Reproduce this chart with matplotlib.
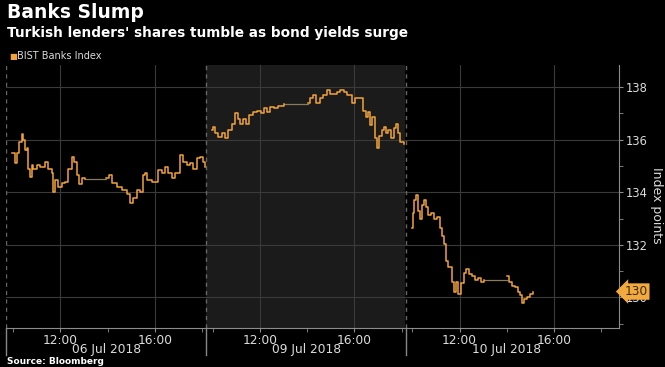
import matplotlib.pyplot as plt
import numpy as np

# BIST Banks Index, three sessions (times local, values in index points)
day_labels = ['06 Jul 2018', '09 Jul 2018', '10 Jul 2018']

jul06_times = ['09:57', '10:05', '10:10', '10:15', '10:23', '10:25', '10:30', '10:35', '10:38', '10:43',
               '10:48', '10:51', '11:01', '11:08', '11:21', '11:29', '11:39', '11:41', '11:46', '11:54',
               '12:04', '12:12', '12:20', '12:30', '12:35', '12:42', '12:47', '12:55', '13:03',
               '13:56', '14:04', '14:11', '14:24', '14:37', '14:49', '14:57', '15:05', '15:15', '15:22',
               '15:30', '15:35', '15:40', '15:53', '16:00', '16:08', '16:18', '16:26', '16:33', '16:44',
               '16:51', '17:04', '17:12', '17:22', '17:29', '17:37', '17:47', '17:55', '18:02', '18:07']
jul06_vals = [135.5, 135.1, 135.5, 135.9, 136.2, 136.0, 135.6, 135.7, 134.9, 134.6,
              135.05, 134.9, 135.05, 134.95, 135.15, 134.9, 134.75, 134.0, 134.45, 134.2,
              134.35, 134.4, 134.9, 135.35, 135.15, 134.65, 134.3, 134.55, 134.5,
              134.55, 134.65, 134.35, 134.2, 134.1, 133.95, 133.6, 133.8, 134.1, 134.0,
              134.65, 134.75, 134.45, 134.4, 134.4, 134.85, 134.75, 134.95, 134.75, 134.55,
              134.75, 135.4, 135.15, 135.05, 135.1, 134.9, 135.3, 135.35, 135.15, 134.95]

jul09_times = ['09:58', '10:01', '10:06', '10:13', '10:24', '10:31', '10:39', '10:49', '10:57', '11:04',
               '11:09', '11:17', '11:25', '11:32', '11:42', '11:53', '12:03', '12:10', '12:18', '12:26',
               '12:36', '12:46', '12:56', '13:01',
               '14:02', '14:07', '14:15', '14:22', '14:33', '14:40', '14:50', '14:58', '15:06', '15:16',
               '15:23', '15:34', '15:41', '15:49', '15:54', '16:01', '16:09', '16:19', '16:22', '16:29',
               '16:34', '16:40', '16:45', '16:52', '16:57', '17:02', '17:10', '17:15', '17:20', '17:25',
               '17:33', '17:40', '17:46', '17:51', '17:56', '18:06']
jul09_vals = [136.35, 136.5, 136.25, 136.1, 136.25, 136.05, 136.35, 136.6, 137.0, 136.8,
              136.6, 136.8, 136.6, 136.95, 137.05, 137.1, 137.0, 137.2, 137.05, 137.25,
              137.2, 137.3, 137.3, 137.35,
              137.4, 137.6, 137.7, 137.4, 137.6, 137.7, 137.9, 137.75, 137.75, 137.8,
              137.9, 137.8, 137.7, 137.7, 137.4, 137.6, 137.6, 137.6, 137.1, 136.85,
              137.05, 136.55, 136.85, 136.05, 135.7, 136.15, 136.35, 136.5, 136.25, 136.35,
              136.05, 136.45, 136.6, 136.25, 135.9, 135.85]

jul10_times = ['09:59', '10:02', '10:04', '10:09', '10:14', '10:20', '10:25', '10:30', '10:35', '10:40',
               '10:48', '10:55', '11:03', '11:10', '11:15', '11:21', '11:26', '11:31', '11:41', '11:46',
               '11:51', '11:56', '12:04', '12:11', '12:16', '12:24', '12:32', '12:39', '12:47', '12:55',
               '13:02',
               '14:01', '14:06', '14:13', '14:21', '14:29', '14:34', '14:39', '14:44', '14:51', '14:59',
               '15:07']
jul10_vals = [132.65, 133.2, 133.7, 133.9, 133.3, 133.0, 133.5, 133.7, 133.45, 133.15,
              133.2, 133.0, 133.05, 132.65, 132.35, 132.05, 131.4, 131.15, 130.6, 130.2,
              130.6, 130.15, 130.55, 130.95, 131.1, 130.9, 130.8, 130.65, 130.75, 130.6,
              130.65,
              130.8, 130.6, 130.45, 130.4, 130.2, 130.1, 129.8, 129.95, 130.0, 130.15,
              130.2]

days = [(jul06_times, jul06_vals), (jul09_times, jul09_vals), (jul10_times, jul10_vals)]

SESSION_START = 9.7   # hours, left edge of each day block
SESSION_LEN = 8.45    # width of one day block in hours
ORANGE = '#f2a33a'
GRID = '#3a3a3a'
TXT = '#dcdcdc'


def to_x(day, hhmm):
    h, m = hhmm.split(':')
    return day * SESSION_LEN + int(h) + int(m) / 60 - SESSION_START


fig = plt.figure(figsize=(6.65, 3.67), dpi=100, facecolor='black')
ax = fig.add_axes([6 / 665, 1 - 328 / 367, 613 / 665, 263 / 367])
ax.set_facecolor('black')
ax.set_xlim(0, 25.95)
ax.set_ylim(128.84, 138.84)

# middle session shaded
ax.axvspan(SESSION_LEN, 2 * SESSION_LEN, color='#1b1b1b', zorder=0, lw=0)

# grid
for v in range(130, 139, 2):
    ax.axhline(v, color=GRID, lw=0.8, zorder=1)
major, minor = [], []
for d in range(3):
    major += [to_x(d, '12:00'), to_x(d, '16:00')]
    minor += [to_x(d, '10:00'), to_x(d, '14:00'), to_x(d, '18:00')]
for xv in major:
    ax.axvline(xv, color=GRID, lw=0.8, zorder=1)

# day separators
for d in range(3):
    xs = d * SESSION_LEN + 0.02
    ax.axvline(xs, color='#666666', lw=1, ls=(0, (3, 3)), zorder=1)
    ax.plot([xs, xs], [0, -0.103], color='#888888', lw=1,
            transform=ax.get_xaxis_transform(), clip_on=False)
    ax.text(d * SESSION_LEN + SESSION_LEN / 2 + 0.05, -0.083, day_labels[d], transform=ax.get_xaxis_transform(),
            ha='center', va='center', color=TXT, fontsize=8.8)

# the index line, lunch break drawn grey
for d, (times, vals) in enumerate(days):
    xs = np.array([to_x(d, t) for t in times])
    vs = np.array(vals)
    gap = np.argmax(np.diff(xs)) + 1
    ax.plot(xs[:gap], vs[:gap], color=ORANGE, lw=1.1, drawstyle='steps-post', zorder=3)
    ax.plot(xs[gap:], vs[gap:], color=ORANGE, lw=1.1, drawstyle='steps-post', zorder=3)
    ax.plot([xs[gap - 1], xs[gap]], [vs[gap - 1], vs[gap - 1]], color='#8a7a60', lw=0.9, zorder=2)

# axes styling
for s in ['left', 'top']:
    ax.spines[s].set_visible(False)
for s in ['right', 'bottom']:
    ax.spines[s].set_color('#8c8c8c')
ax.yaxis.tick_right()
ax.set_yticks(range(130, 139, 2))
ax.set_yticks(range(129, 139), minor=True)
ax.set_xticks(major)
ax.set_xticklabels(['12:00', '16:00'] * 3)
ax.set_xticks(minor, minor=True)
ax.tick_params(axis='both', which='both', direction='out', length=3, color='#8c8c8c', colors=TXT)
ax.tick_params(axis='y', which='major', pad=2, labelsize=8.3)
ax.tick_params(axis='x', which='major', pad=1, labelsize=8.8)

# last value marker (covers the 130 tick label, as in the original)
last = jul10_vals[-1]
ax.annotate(f'{last:.0f}', xy=(1, last), xycoords=('axes fraction', 'data'),
            xytext=(4, 0.5), textcoords='offset points', ha='left', va='center',
            fontsize=8.8, color='#3a2a10', zorder=5,
            bbox=dict(boxstyle='larrow,pad=0.14', fc='#f2a93e', ec='none'))

fig.text(657 / 665, 1 - 205 / 367, 'Index points', rotation=270, ha='center', va='center',
         color=TXT, fontsize=9)

# titles and legend
fig.text(7 / 665, 1 - 13 / 367, 'Banks Slump', color='white', fontsize=13.5, fontweight='bold',
         va='center', ha='left')
fig.text(7 / 665, 1 - 33 / 367, "Turkish lenders' shares tumble as bond yields surge", color='white',
         fontsize=9.8, fontweight='bold', va='center', ha='left')
fig.text(9 / 665, 1 - 56 / 367, '■', color=ORANGE, fontsize=6, va='center', ha='left')
fig.text(17 / 665, 1 - 56 / 367, 'BIST Banks Index', color=TXT, fontsize=7, va='center', ha='left')
fig.text(7 / 665, 1 - 362 / 367, 'Source: Bloomberg', color='white', fontsize=6.5, fontweight='bold',
         va='center', ha='left')

fig.savefig('out.png', dpi=100, facecolor='black')
